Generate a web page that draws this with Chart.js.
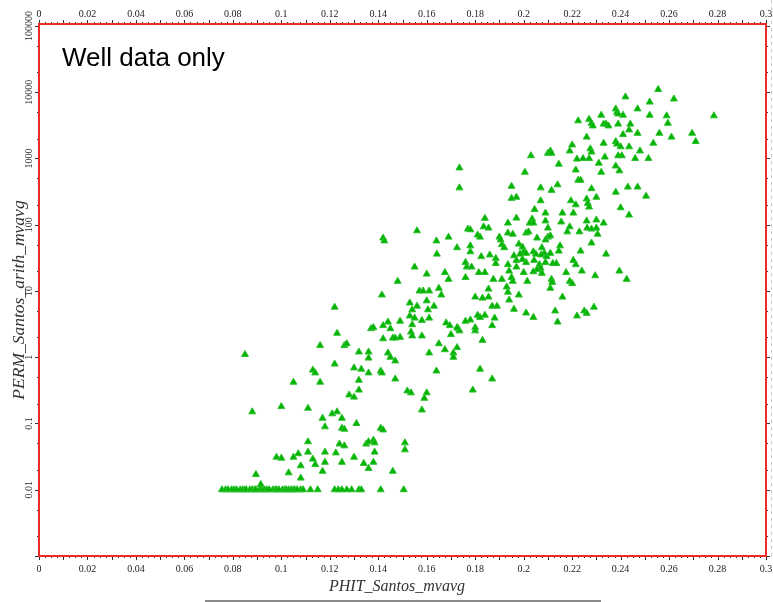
<!DOCTYPE html>
<html>
<head>
<meta charset="utf-8">
<script src="https://cdn.jsdelivr.net/npm/chart.js@4"></script>
<style>
  html, body { margin: 0; padding: 0; background: #fff; }
  canvas { display: block; }
</style>
</head>
<body>
<canvas id="chart" width="773" height="602"></canvas>
<script>
const phit = [
  0.085, 0.122, 0.123, 0.116, 0.126, 0.127, 0.132, 0.136, 0.136, 0.137,
  0.138, 0.142, 0.144, 0.145, 0.142, 0.146, 0.147, 0.149, 0.149, 0.153,
  0.156, 0.160, 0.163, 0.154, 0.153, 0.155, 0.158, 0.161, 0.1605, 0.154,
  0.1535, 0.154, 0.158, 0.165, 0.1675, 0.161, 0.168, 0.164, 0.144, 0.145,
  0.147, 0.113, 0.114, 0.122, 0.130, 0.133, 0.136, 0.141, 0.1415, 0.147,
  0.105, 0.116, 0.132, 0.132, 0.128, 0.130, 0.152, 0.1535, 0.160, 0.159,
  0.158, 0.088, 0.100, 0.111, 0.117, 0.121, 0.123, 0.125, 0.118, 0.125,
  0.126, 0.131, 0.141, 0.142, 0.111, 0.111, 0.118, 0.1225, 0.124, 0.126,
  0.135, 0.136, 0.138, 0.1385, 0.1385, 0.130, 0.151, 0.151, 0.098, 0.100,
  0.105, 0.107, 0.113, 0.114, 0.118, 0.125, 0.108, 0.134, 0.138, 0.136,
  0.0895, 0.103, 0.108, 0.117, 0.146, 0.0915, 0.170, 0.173, 0.1735, 0.1725,
  0.171, 0.171, 0.183, 0.182, 0.187, 0.179, 0.180, 0.187, 0.194, 0.187,
  0.189, 0.196, 0.201, 0.204, 0.213, 0.214, 0.222, 0.225, 0.226, 0.229,
  0.181, 0.182, 0.184, 0.176, 0.178, 0.188, 0.1695, 0.1725, 0.180, 0.2555,
  0.242, 0.252, 0.262, 0.232, 0.238, 0.2385, 0.239, 0.241, 0.247, 0.252,
  0.259, 0.2595, 0.2225, 0.227, 0.228, 0.2285, 0.233, 0.234, 0.235, 0.239,
  0.244, 0.2435, 0.247, 0.241, 0.256, 0.261, 0.2695, 0.271, 0.2785, 0.226,
  0.233, 0.238, 0.2385, 0.240, 0.2435, 0.248, 0.2535, 0.220, 0.219, 0.2275,
  0.228, 0.2245, 0.227, 0.222, 0.2335, 0.239, 0.2405, 0.246, 0.2515, 0.210,
  0.211, 0.2115, 0.203, 0.2145, 0.231, 0.2215, 0.238, 0.2395, 0.232, 0.2005,
  0.1735, 0.1735, 0.2225, 0.2235, 0.195, 0.207, 0.2115, 0.214, 0.228, 0.238,
  0.243, 0.247, 0.2505, 0.195, 0.197, 0.207, 0.2195, 0.2215, 0.226, 0.2265,
  0.227, 0.230, 0.240, 0.2435, 0.2045, 0.216, 0.2205, 0.209, 0.184, 0.1835,
  0.1855, 0.1935, 0.197, 0.2035, 0.2025, 0.204, 0.209, 0.210, 0.2155, 0.219,
  0.218, 0.226, 0.2262, 0.228, 0.230, 0.230, 0.2305, 0.233, 0.223, 0.156,
  0.169, 0.177, 0.178, 0.181, 0.182, 0.164, 0.1642, 0.1725, 0.178, 0.178,
  0.190, 0.1905, 0.191, 0.1935, 0.1955, 0.201, 0.202, 0.2055, 0.209, 0.210,
  0.211, 0.215, 0.228, 0.192, 0.198, 0.1995, 0.200, 0.1985, 0.196, 0.197,
  0.201, 0.201, 0.204, 0.205, 0.2043, 0.2075, 0.2085, 0.2095, 0.211, 0.212,
  0.2135, 0.2065, 0.207, 0.209, 0.2205, 0.2215, 0.2235, 0.234, 0.1825, 0.186,
  0.176, 0.1765, 0.1785, 0.1885, 0.1885, 0.1935, 0.194, 0.197, 0.155, 0.160,
  0.1675, 0.169, 0.176, 0.1815, 0.184, 0.1875, 0.191, 0.195, 0.1955, 0.2015,
  0.200, 0.2055, 0.2115, 0.2118, 0.211, 0.2175, 0.219, 0.220, 0.224, 0.2295,
  0.2395, 0.2425, 0.157, 0.1585, 0.161, 0.165, 0.166, 0.1855, 0.1855, 0.180,
  0.183, 0.193, 0.1935, 0.198, 0.216, 0.142, 0.1425, 0.148, 0.1415, 0.2145,
  0.1995, 0.2072, 0.204, 0.2075,
  // samples sitting on the 0.01 mD floor
  0.0755, 0.077, 0.078, 0.0795, 0.0805, 0.0815, 0.083, 0.084, 0.085, 0.0855,
  0.087, 0.088, 0.089, 0.0895, 0.091, 0.092, 0.093, 0.094, 0.095, 0.0965,
  0.0975, 0.098, 0.099, 0.1005, 0.1015, 0.102, 0.103, 0.104, 0.105, 0.1055,
  0.1065, 0.108, 0.109, 0.112, 0.115, 0.122, 0.1235, 0.125, 0.127, 0.129,
  0.132, 0.133, 0.141, 0.1505
];
const perm = [
  1.1, 5.7, 2.3, 1.5, 1.5, 1.6, 1.2, 1.2, 0.97, 2.7,
  2.8, 3.0, 3.4, 2.7, 1.9, 1.95, 1.95, 2.0, 3.5, 6.6,
  5.9, 7.1, 5.9, 5.2, 4.2, 3.9, 3.6, 3.9, 5.2, 3.1,
  2.4, 2.1, 2.1, 1.6, 1.3, 1.16, 3.3, 0.62, 1.16, 1.0,
  0.88, 0.64, 0.58, 0.79, 0.69, 0.66, 0.58, 0.62, 0.58, 0.47,
  0.42, 0.42, 0.45, 0.32, 0.27, 0.25, 0.31, 0.29, 0.29, 0.24,
  0.16, 0.15, 0.18, 0.17, 0.12, 0.14, 0.15, 0.12, 0.089, 0.085,
  0.082, 0.10, 0.085, 0.080, 0.053, 0.037, 0.037, 0.036, 0.049, 0.046,
  0.049, 0.053, 0.056, 0.051, 0.037, 0.031, 0.051, 0.040, 0.031, 0.030,
  0.031, 0.035, 0.029, 0.024, 0.026, 0.026, 0.023, 0.025, 0.026, 0.021,
  0.017, 0.018, 0.015, 0.019, 0.019, 0.012, 2.2, 2.7, 2.5, 1.4,
  1.16, 1.0, 1.8, 0.66, 0.47, 0.32, 2.5, 3.0, 7.3, 5.9,
  5.9, 5.3, 4.65, 4.0, 5.0, 3.4, 4.2, 5.0, 4.6, 5.7,
  4.3, 4.0, 4.3, 3.5, 3.65, 3.9, 3.0, 2.8, 2.8, 11000,
  8500, 7100, 7900, 4500, 5600, 5000, 4700, 4500, 5600, 4500,
  4400, 3400, 3700, 3900, 3400, 3100, 3300, 3300, 3100, 3300,
  3300, 2700, 2400, 2300, 2400, 2100, 2400, 1800, 4400, 2100,
  1700, 1800, 1650, 1500, 1500, 1300, 1700, 1600, 1300, 1400,
  1250, 1000, 1000, 980, 1050, 1100, 1100, 1000, 1000, 1200,
  1300, 1200, 1100, 820, 850, 670, 770, 650, 620, 620,
  720, 360, 470, 470, 380, 360, 330, 400, 350, 310,
  370, 370, 270, 250, 260, 230, 230, 200, 245, 210,
  185, 260, 180, 140, 170, 150, 150, 150, 125, 93,
  89, 106, 126, 122, 106, 106, 114, 89, 110, 93,
  78, 114, 89, 86, 118, 89, 72, 106, 78, 81,
  65, 86, 84, 70, 65, 57, 36, 45, 48, 39,
  65, 59, 50, 75, 72, 75, 78, 63, 59, 65,
  68, 48, 53, 45, 51, 46, 39, 36, 34, 29,
  37, 27, 39, 36, 29, 45, 37, 33, 37, 26,
  26, 25, 22, 27, 29, 25, 40, 36, 33, 35,
  27, 23, 23, 31, 26, 25, 20, 23, 23, 18,
  19, 15, 16, 19, 19, 15, 15, 16, 14, 14,
  19, 21, 15, 13.5, 11, 19, 14, 13, 20, 17,
  20, 15, 10, 10, 10, 11, 8.7, 10.7, 8.1, 8.1,
  7.8, 11.5, 9.6, 8.7, 8.1, 63, 57, 14, 8.7, 40,
  30, 35, 19.5, 18.5,
  0.01, 0.01, 0.01, 0.01, 0.01, 0.01, 0.01, 0.01, 0.01, 0.01,
  0.01, 0.01, 0.01, 0.01, 0.01, 0.01, 0.01, 0.01, 0.01, 0.01,
  0.01, 0.01, 0.01, 0.01, 0.01, 0.01, 0.01, 0.01, 0.01, 0.01,
  0.01, 0.01, 0.01, 0.01, 0.01, 0.01, 0.01, 0.01, 0.01, 0.01,
  0.01, 0.01, 0.01, 0.01
];

const xTicks = [0, 0.02, 0.04, 0.06, 0.08, 0.1, 0.12, 0.14, 0.16, 0.18, 0.2, 0.22, 0.24, 0.26, 0.28, 0.3];
const xTickLabels = ['0', '0.02', '0.04', '0.06', '0.08', '0.1', '0.12', '0.14', '0.16', '0.18', '0.2', '0.22', '0.24', '0.26', '0.28', '0.3'];
const yTicks = [0.01, 0.1, 1, 10, 100, 1000, 10000, 100000];
const yTickLabels = ['0.01', '0.1', '1', '10', '100', '1000', '10000', '100000'];

const xTitle = 'PHIT_Santos_mvavg';
const yTitle = 'PERM_Santos_arith_mvavg';
const note = 'Well data only';

const points = phit.map((x, i) => ({ x: x, y: perm[i] }));

const frame = {
  id: 'frame',
  afterDraw(chart) {
    const c = chart.ctx;
    const a = chart.chartArea;
    const sx = chart.scales.x;
    const sy = chart.scales.y;
    c.save();

    // little tick marks outside the box
    c.strokeStyle = '#333';
    c.lineWidth = 1;
    c.beginPath();
    for (let i = 0; i <= 120; i++) {
      const px = Math.round(sx.getPixelForValue(i * 0.0025)) + 0.5;
      const len = i % 4 === 0 ? 4 : 2;
      c.moveTo(px, a.top); c.lineTo(px, a.top - len);
      c.moveTo(px, a.bottom); c.lineTo(px, a.bottom + len);
    }
    for (let e = -3; e <= 5; e++) {
      [1, 2, 5].forEach(m => {
        const v = m * Math.pow(10, e);
        if (v > sy.max) return;
        const py = Math.round(sy.getPixelForValue(v)) + 0.5;
        const len = m === 1 ? 4 : 2;
        c.moveTo(a.left, py); c.lineTo(a.left - len, py);
        c.moveTo(a.right, py); c.lineTo(a.right + len, py);
      });
    }
    c.stroke();

    // red box
    c.strokeStyle = '#ee2b2b';
    c.lineWidth = 2;
    c.strokeRect(a.left, a.top, a.right - a.left, a.bottom - a.top);

    // faint dashed edge on the right
    c.strokeStyle = '#c8c8c8';
    c.lineWidth = 1;
    c.setLineDash([3, 4]);
    c.beginPath();
    c.moveTo(771.5, 0); c.lineTo(771.5, 560);
    c.stroke();
    c.setLineDash([]);

    // tick labels
    c.fillStyle = '#222';
    c.font = '10px "Liberation Serif"';
    c.textAlign = 'center';
    c.textBaseline = 'middle';
    xTicks.forEach((v, i) => {
      const px = sx.getPixelForValue(v);
      c.fillText(xTickLabels[i], px, 14);
      c.fillText(xTickLabels[i], px, 569);
    });
    yTicks.forEach((v, i) => {
      const py = sy.getPixelForValue(v);
      c.save();
      c.translate(29, py);
      c.rotate(-Math.PI / 2);
      c.fillText(yTickLabels[i], 0, 0);
      c.restore();
    });

    // axis titles
    c.fillStyle = '#333';
    c.textBaseline = 'alphabetic';
    c.font = 'italic 16px "Liberation Serif"';
    c.fillText(xTitle, 397, 591);
    c.font = 'italic 17.5px "Liberation Serif"';
    c.save();
    c.translate(24, 300);
    c.rotate(-Math.PI / 2);
    c.fillText(yTitle, 0, 0);
    c.restore();

    // grey rule under the x title
    c.strokeStyle = '#8a8a8a';
    c.lineWidth = 2;
    c.beginPath();
    c.moveTo(205, 601); c.lineTo(601, 601);
    c.stroke();

    // note
    c.fillStyle = '#000';
    c.font = '26px "Liberation Sans"';
    c.textAlign = 'left';
    c.fillText(note, 62, 66);

    c.restore();
  }
};

new Chart(document.getElementById('chart'), {
  type: 'scatter',
  data: {
    datasets: [{
      data: points,
      pointStyle: 'triangle',
      pointRadius: 4,
      backgroundColor: '#00b300',
      borderColor: '#2cc02c',
      borderWidth: 1
    }]
  },
  options: {
    responsive: false,
    animation: false,
    events: [],
    layout: { padding: { left: 39, right: 7, top: 24, bottom: 46 } },
    plugins: {
      legend: { display: false },
      tooltip: { enabled: false }
    },
    scales: {
      x: { type: 'linear', min: 0, max: 0.3, display: false },
      y: { type: 'logarithmic', min: 0.001, max: 107000, display: false }
    }
  },
  plugins: [frame]
});
</script>
</body>
</html>
